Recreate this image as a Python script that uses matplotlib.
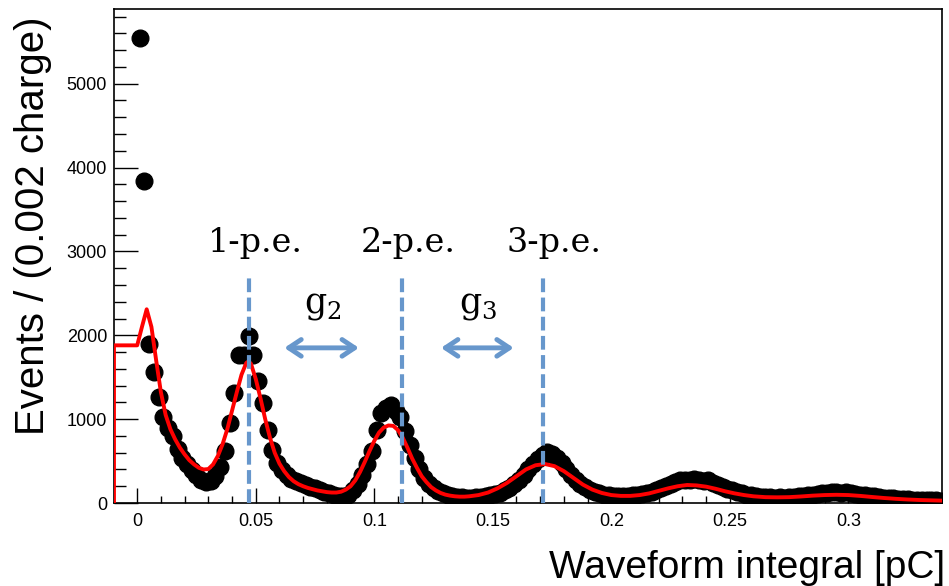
import numpy as np
import matplotlib
matplotlib.use('Agg')
import matplotlib.pyplot as plt
from matplotlib.ticker import MultipleLocator
from matplotlib.patches import FancyArrowPatch

# charge histogram, bin width 0.002 pC, bin centres 0.001 ... 0.339
bin_width = 0.002
counts = [
    5540, 3840, 1900, 1560, 1260, 1030, 900, 800, 650, 540,
    470, 390, 330, 280, 245, 265, 320, 430, 620, 950,
    1310, 1760, 1760, 1990, 1760, 1450, 1190, 870, 630, 480,
    390, 330, 290, 260, 235, 210, 190, 175, 155, 135,
    115, 100, 85, 80, 100, 150, 230, 340, 470, 620,
    870, 1070, 1130, 1170, 1100, 1030, 860, 690, 540, 400,
    300, 230, 180, 145, 120, 100, 85, 75, 70, 65,
    65, 70, 75, 80, 90, 105, 125, 150, 185, 230,
    280, 340, 400, 460, 520, 570, 610, 590, 540, 480,
    410, 340, 280, 230, 190, 160, 135, 115, 100, 90,
    85, 80, 80, 85, 90, 95, 105, 120, 135, 155,
    180, 200, 230, 250, 270, 280, 270, 285, 275, 260,
    270, 240, 220, 195, 170, 150, 130, 115, 100, 90,
    85, 75, 70, 70, 65, 70, 65, 70, 75, 80,
    85, 90, 100, 110, 115, 120, 135, 130, 125, 135,
    120, 110, 100, 95, 85, 80, 75, 65, 60, 55,
    50, 50, 45, 40, 40, 40, 35, 35, 35, 30,
]

# fitted model (red line)
fit_x = [-0.0098, -0.0098, 0.0, 0.002, 0.004, 0.006, 0.008, 0.010, 0.012, 0.014,
         0.016, 0.018, 0.020, 0.022, 0.024, 0.026, 0.028, 0.030, 0.032, 0.034,
         0.036, 0.038, 0.040, 0.042, 0.044, 0.046, 0.047, 0.048, 0.050, 0.052,
         0.054, 0.056, 0.058, 0.060, 0.062, 0.064, 0.066, 0.068, 0.070, 0.072,
         0.074, 0.076, 0.078, 0.080, 0.082, 0.084, 0.086, 0.088, 0.090, 0.092,
         0.094, 0.096, 0.098, 0.100, 0.102, 0.104, 0.106, 0.108, 0.110, 0.112,
         0.114, 0.116, 0.118, 0.120, 0.122, 0.124, 0.126, 0.128, 0.130, 0.132,
         0.134, 0.136, 0.138, 0.140, 0.144, 0.148, 0.152, 0.156, 0.160, 0.164,
         0.168, 0.172, 0.176, 0.180, 0.184, 0.188, 0.192, 0.196, 0.200, 0.204,
         0.208, 0.212, 0.216, 0.220, 0.224, 0.228, 0.232, 0.236, 0.240, 0.244,
         0.248, 0.252, 0.256, 0.260, 0.265, 0.270, 0.275, 0.280, 0.285, 0.290,
         0.295, 0.300, 0.305, 0.310, 0.315, 0.320, 0.325, 0.330, 0.335, 0.340]
fit_y = [0, 1880, 1880, 2100, 2310, 2100, 1700, 1320, 1050, 880,
         760, 660, 580, 510, 460, 420, 400, 405, 460, 560,
         700, 880, 1100, 1320, 1530, 1670, 1690, 1660, 1480, 1250,
         1000, 780, 600, 470, 380, 310, 260, 225, 200, 180,
         165, 150, 140, 130, 125, 125, 135, 160, 200, 270,
         370, 490, 620, 740, 840, 900, 925, 920, 870, 780,
         660, 530, 420, 320, 250, 190, 150, 120, 100, 88,
         80, 76, 76, 80, 95, 125, 175, 240, 320, 400,
         450, 465, 440, 380, 300, 220, 160, 120, 95, 85,
         85, 95, 115, 145, 175, 200, 215, 210, 195, 170,
         140, 115, 95, 80, 70, 68, 70, 78, 88, 95,
         98, 95, 85, 72, 60, 50, 42, 36, 32, 28]

# photo-electron peak markers
pe_labels = ['1-p.e.', '2-p.e.', '3-p.e.']
pe_pos = [0.0471, 0.1116, 0.1712]
gap_labels = ['g$_\\mathregular{2}$', 'g$_\\mathregular{3}$']
gap_spans = [(0.0609, 0.0947), (0.1270, 0.1600)]

plt.rcParams['font.family'] = ['Liberation Sans', 'DejaVu Sans']

fig = plt.figure(figsize=(9.49, 5.86), dpi=100)
ax = fig.add_axes([0.1201, 0.1416, 0.8725, 0.843])

centres = bin_width / 2 + bin_width * np.arange(len(counts))
ax.plot(centres, counts, 'o', color='black', ms=12, zorder=2)
ax.plot(fit_x, fit_y, color='#ff0000', lw=2.8, zorder=3)

blue = '#6797cc'
for x in pe_pos:
    ax.plot([x, x], [0, 2690], color=blue, lw=3, ls=(0, (3.3, 1.3)),
            zorder=4, clip_on=False)
for lab, x in zip(pe_labels, [0.0497, 0.1142, 0.1758]):
    ax.text(x, 2990, lab, ha='center', va='baseline', fontsize=24,
            family='DejaVu Serif', zorder=5)
for lab, (x0, x1) in zip(gap_labels, gap_spans):
    ax.text((x0 + x1) / 2 + 0.0005, 2272, lab, ha='center', va='baseline',
            fontsize=25, family='DejaVu Serif', zorder=5)
    ax.add_patch(FancyArrowPatch((x0, 1850), (x1, 1850),
                                 arrowstyle='<->,head_length=9,head_width=6',
                                 color=blue, lw=3.5, mutation_scale=1,
                                 zorder=5))

ax.set_xlim(-0.0098, 0.3395)
ax.set_ylim(0, 5890)
ax.xaxis.set_major_locator(MultipleLocator(0.05))
ax.xaxis.set_minor_locator(MultipleLocator(0.01))
ax.yaxis.set_major_locator(MultipleLocator(1000))
ax.yaxis.set_minor_locator(MultipleLocator(200))
ax.set_xticks([0, 0.05, 0.1, 0.15, 0.2, 0.25, 0.3])
ax.set_xticklabels(['0', '0.05', '0.1', '0.15', '0.2', '0.25', '0.3'])
ax.tick_params(axis='x', which='major', direction='in', length=10.5, width=1,
               labelsize=13, pad=7)
ax.tick_params(axis='x', which='minor', direction='in', length=5.3, width=1)
ax.tick_params(axis='y', which='major', direction='in', length=17, width=1,
               labelsize=13, pad=5)
ax.tick_params(axis='y', which='minor', direction='in', length=8.8, width=1)
for s in ax.spines.values():
    s.set_linewidth(1.2)

fig.text(0.996, 0.0137, 'Waveform integral [pC]', ha='right', va='baseline',
         fontsize=28)
fig.text(0.035, 0.972, 'Events / (0.002 charge)', ha='center', va='top',
         rotation=90, fontsize=29)

fig.savefig('out.png', dpi=100)
